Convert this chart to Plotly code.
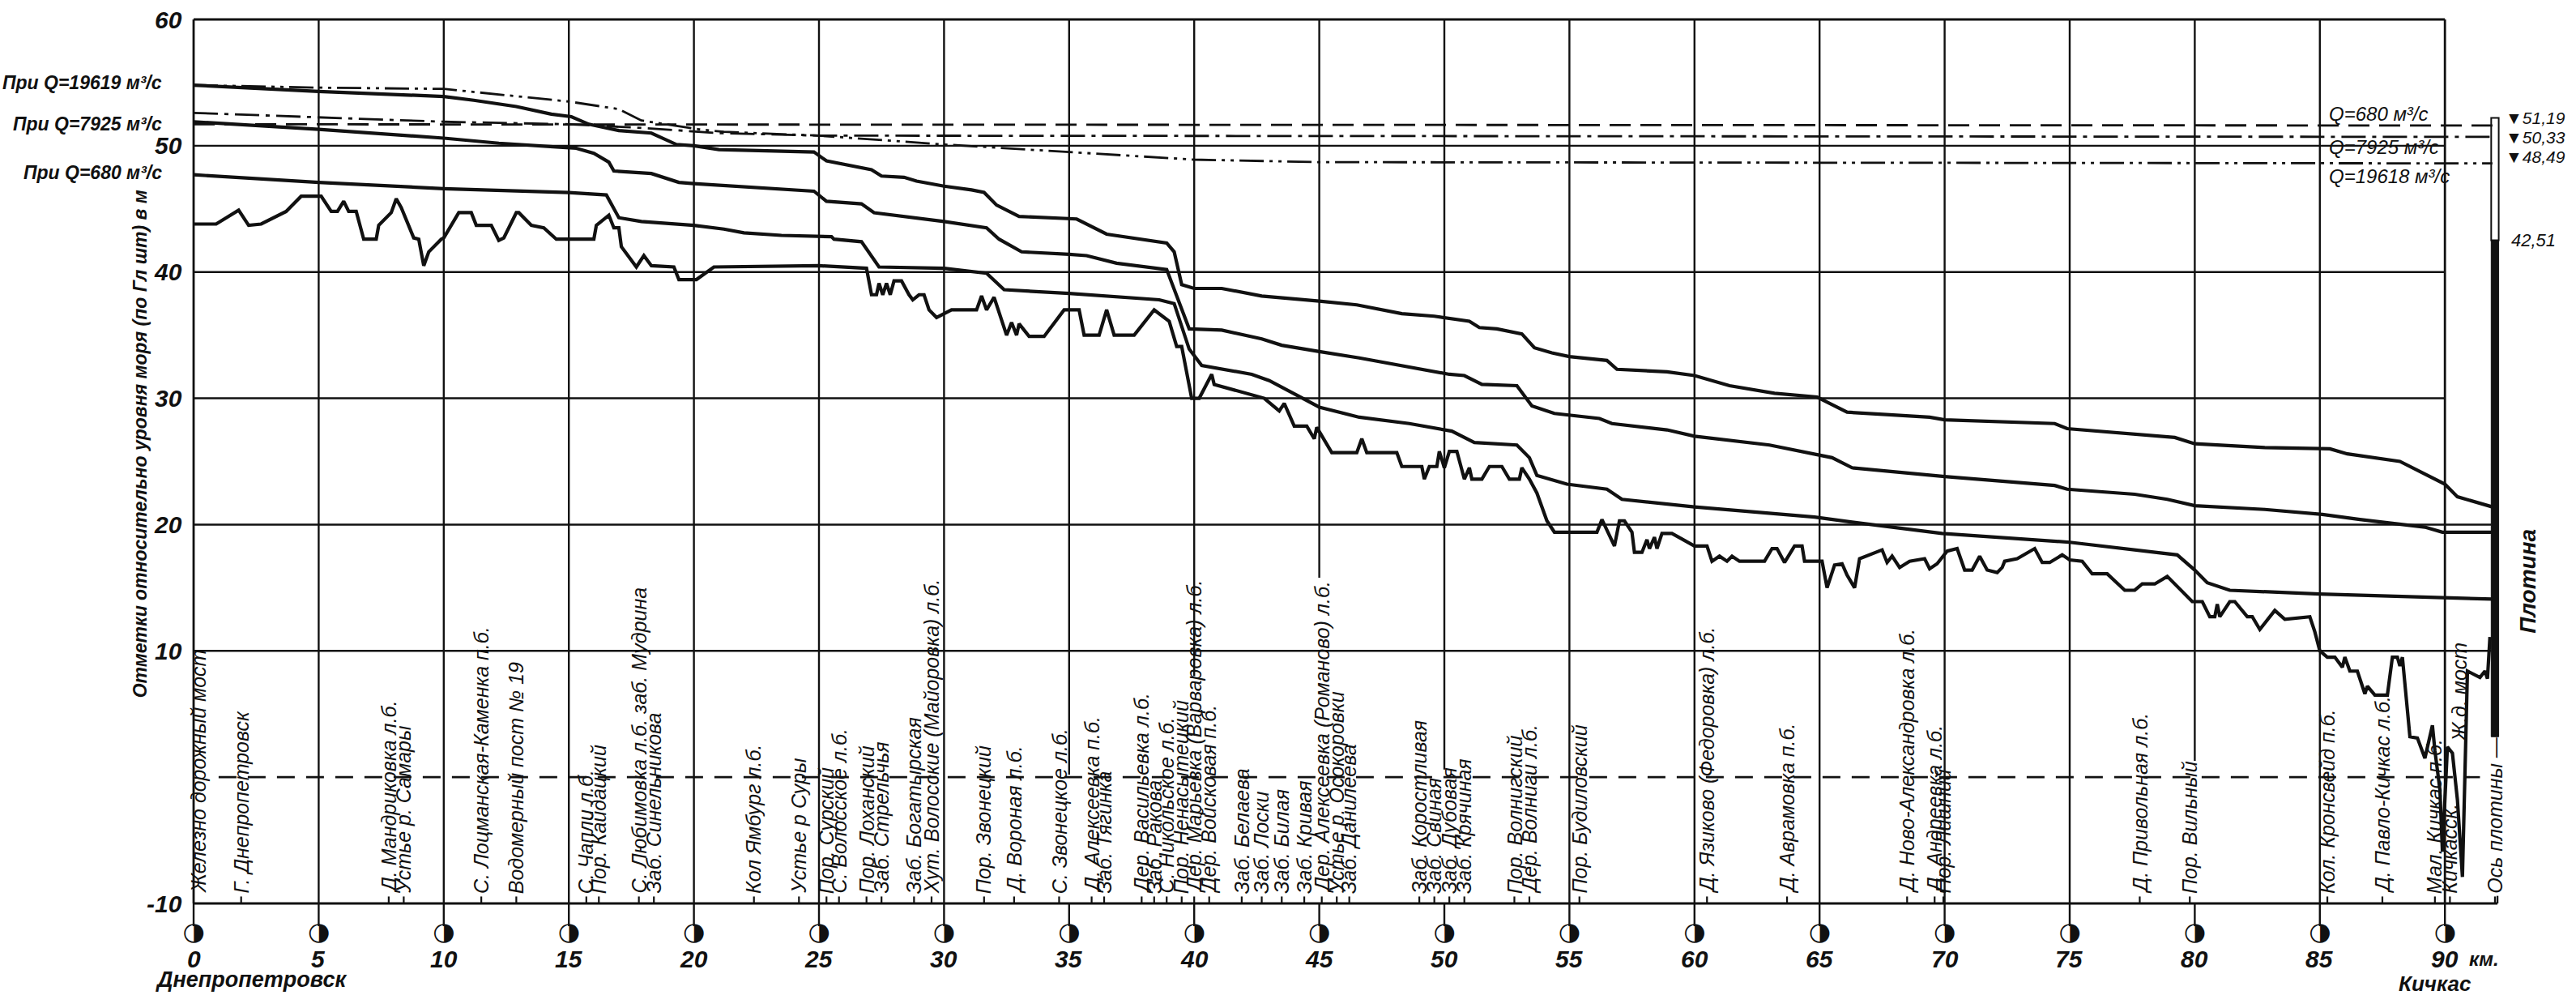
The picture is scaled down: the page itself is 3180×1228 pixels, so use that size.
import plotly.graph_objects as go

# ---------------- data ----------------
grid_km = [0, 5, 10, 15, 20, 25, 30, 35, 40, 45, 50, 55, 60, 65, 70, 75, 80, 85, 90]
grid_levels = [60, 50, 40, 30, 20, 10]
y_tick_levels = [60, 50, 40, 30, 20, 10, -10]

# natural water profile, Q = 19619 m3/s
q19619_km = [0, 5, 10, 11.2, 12.9, 14.3, 15.1, 15.8, 17, 18.3, 19.3, 20, 21, 24.8, 25.3, 27.1, 27.5, 28.4, 28.9,
             30, 31.1, 31.6, 32.1, 33, 35.3, 36.5, 38.9, 39.2, 39.5, 40, 41.1, 42.7, 45, 46.5, 48.3, 49.6, 51,
             51.4, 52.1, 53.1, 53.6, 54.3, 55, 56.5, 56.9, 58.9, 60, 61.4, 63.2, 64.9, 65.5, 66.1, 67.8, 69.4,
             70, 74.4, 74.9, 77.4, 79.2, 80, 82.8, 85.4, 86.1, 88.2, 89, 90, 90.5, 91.9]
q19619_lvl = [54.8, 54.3, 53.9, 53.6, 53.1, 52.5, 52.3, 51.7, 51.2, 51.0, 50.1, 50.0, 49.7, 49.5, 48.8, 48.1, 47.6,
              47.5, 47.2, 46.8, 46.5, 46.3, 45.3, 44.4, 44.2, 43.0, 42.3, 41.6, 39.0, 38.7, 38.7, 38.1, 37.7, 37.4,
              36.7, 36.5, 36.1, 35.6, 35.5, 35.1, 34.0, 33.6, 33.3, 33.0, 32.3, 32.1, 31.8, 31.0, 30.4, 30.1, 29.5,
              28.9, 28.7, 28.5, 28.3, 28.0, 27.6, 27.2, 26.9, 26.4, 26.1, 26.0, 25.6, 25.0, 24.2, 23.2, 22.2, 21.4]

# natural water profile, Q = 7925 m3/s
q7925_km = [0, 5, 10, 12.2, 14.5, 15.3, 16, 16.6, 16.8, 18.3, 19.4, 20, 24.8, 25.3, 26.7, 27.2, 30, 31.7, 32.2,
            33.1, 35, 35.7, 36.9, 38.9, 39.8, 41.1, 42.7, 43.5, 45, 46.6, 50.2, 50.8, 51.5, 52.9, 53.5, 54.4,
            56.2, 56.7, 58.9, 60, 63, 65, 65.5, 66.3, 70, 74.4, 74.9, 77.6, 78.9, 80, 82.8, 85.1, 86.6, 89.2,
            89.9, 91.9]
q7925_lvl = [51.9, 51.3, 50.6, 50.2, 49.9, 49.8, 49.4, 48.7, 48.0, 47.8, 47.1, 47.0, 46.4, 45.6, 45.4, 44.7, 44.0,
             43.5, 42.6, 41.6, 41.4, 41.3, 40.7, 40.2, 35.5, 35.4, 34.7, 34.2, 33.7, 33.2, 31.9, 31.8, 31.1, 31.0,
             29.4, 28.8, 28.4, 28.0, 27.5, 27.0, 26.3, 25.5, 25.3, 24.5, 23.8, 23.1, 22.8, 22.4, 22.0, 21.5, 21.2,
             20.8, 20.4, 19.8, 19.4, 19.4]

# natural water profile, Q = 680 m3/s
q680_km = [0, 5, 10, 15, 16.5, 17, 17.9, 20, 21.2, 22, 23.5, 25.5, 25.6, 26.7, 27.4, 30, 31.7, 32.4, 35, 38.6,
           39.2, 39.8, 40.3, 42.3, 43, 45, 46.6, 48.6, 50.3, 51.2, 52.9, 53.4, 53.7, 54.9, 56.5, 57.1, 60, 64.8,
           66.3, 69.9, 75, 79.3, 80, 80.5, 81.4, 85, 91.9]
q680_lvl = [47.7, 47.1, 46.6, 46.3, 46.1, 44.3, 44.0, 43.7, 43.4, 43.1, 42.9, 42.8, 42.6, 42.4, 40.4, 40.3, 39.9,
            38.6, 38.3, 37.8, 37.5, 33.9, 32.6, 31.9, 31.4, 29.3, 28.5, 28.0, 27.4, 26.5, 26.3, 25.3, 23.9, 23.2,
            22.8, 22.0, 21.4, 20.6, 20.2, 19.3, 18.6, 17.6, 16.4, 15.4, 14.8, 14.5, 14.1]

# river bed
bed_km = [0, 0.9, 1.8, 2.2, 2.7, 3.7, 4.3, 5.1, 5.5, 5.75, 6.0, 6.2, 6.5, 6.8, 7.3, 7.4, 7.9, 8.1, 8.3, 8.8, 9.0,
          9.2, 9.4, 9.9, 10.0, 10.6, 11.1, 11.3, 11.9, 12.2, 12.4, 12.9, 13.0, 13.5, 14.0, 14.5, 16.0, 16.1, 16.6,
          16.8, 17.0, 17.1, 17.7, 18.0, 18.3, 19.2, 19.4, 20.1, 20.8, 25.0, 26.9, 27.1, 27.3, 27.4, 27.55, 27.7,
          27.85, 28.0, 28.3, 28.6, 28.75, 29.0, 29.2, 29.4, 29.7, 30.0, 30.3, 31.3, 31.5, 31.7, 32.0, 32.5, 32.7,
          32.9, 33.0, 33.4, 34.0, 34.8, 35.4, 35.6, 36.2, 36.5, 36.8, 37.6, 38.4, 39.0, 39.3, 39.5, 39.9, 40.2,
          40.7, 40.8, 42.8, 43.4, 43.6, 44.0, 44.5, 44.8, 44.9, 45.5, 46.5, 46.7, 46.9, 48.1, 48.3, 49.1, 49.2,
          49.4, 49.7, 49.8, 50.0, 50.2, 50.5, 50.8, 51.0, 51.1, 51.5, 51.8, 52.3, 52.6, 53.0, 53.1, 53.4, 53.7,
          54.1, 54.4, 56.1, 56.3, 56.5, 56.8, 57.0, 57.2, 57.5, 57.6, 57.9, 58.1, 58.2, 58.4, 58.5, 58.7, 59.1,
          60.0, 60.5, 60.7, 61.0, 61.3, 61.5, 61.8, 62.8, 63.1, 63.3, 63.6, 64.0, 64.3, 64.4, 65.1, 65.3, 65.6,
          65.9, 66.1, 66.4, 66.6, 67.5, 67.7, 67.9, 68.2, 68.6, 69.2, 69.4, 69.7, 70.1, 70.5, 70.8, 71.1, 71.4,
          71.7, 72.1, 72.3, 72.4, 72.9, 73.6, 73.9, 74.2, 74.7, 75.0, 75.5, 75.9, 76.5, 77.2, 77.6, 77.9, 78.4,
          78.9, 79.9, 80.3, 80.6, 80.8, 80.9, 81.0, 81.4, 81.6, 82.1, 82.3, 82.6, 83.2, 83.6, 84.6, 84.8, 85.0,
          85.3, 85.6, 85.9, 86.0, 86.2, 86.5, 86.8, 86.9, 87.2, 87.7, 87.9, 88.1, 88.2, 88.3, 88.6, 88.9, 89.2,
          89.5, 89.6, 89.8, 89.9, 90.1, 90.3, 90.5, 90.7, 90.9, 91.4, 91.6, 91.7, 91.8]
bed_lvl = [43.8, 43.8, 44.9, 43.7, 43.8, 44.8, 46.0, 46.0, 44.8, 44.8, 45.6, 44.8, 44.8, 42.6, 42.6, 43.7, 44.7,
           45.8, 45.1, 42.7, 42.6, 40.5, 41.6, 42.6, 42.7, 44.7, 44.7, 43.7, 43.7, 42.5, 42.7, 44.7, 44.7, 43.7,
           43.5, 42.6, 42.6, 43.7, 44.5, 43.5, 43.5, 42.0, 40.4, 41.3, 40.5, 40.4, 39.4, 39.4, 40.4, 40.5, 40.3,
           38.2, 38.2, 39.1, 38.2, 39.1, 38.2, 39.3, 39.3, 38.2, 37.8, 38.2, 38.2, 37.0, 36.4, 36.7, 37.0, 37.0,
           38.1, 37.0, 38.0, 35.0, 36.0, 35.0, 35.9, 34.9, 34.9, 37.0, 37.0, 35.0, 35.0, 37.0, 35.0, 35.0, 37.0,
           36.1, 34.1, 34.1, 30.0, 30.0, 31.9, 31.1, 30.0, 29.0, 29.6, 27.8, 27.8, 26.8, 27.7, 25.7, 25.7, 26.8,
           25.7, 25.7, 24.6, 24.6, 23.6, 24.6, 24.6, 25.8, 24.5, 25.8, 25.8, 23.6, 24.5, 23.6, 23.6, 24.6, 24.6,
           23.6, 23.6, 24.5, 23.6, 22.5, 20.3, 19.4, 19.4, 20.4, 19.5, 18.3, 20.3, 20.3, 19.4, 17.8, 17.8, 18.8,
           18.1, 19.0, 18.1, 19.3, 19.3, 18.3, 18.3, 17.1, 17.5, 17.1, 17.5, 17.1, 17.1, 18.1, 18.1, 17.0, 18.3,
           18.3, 17.1, 17.1, 15.0, 16.8, 16.9, 16.0, 15.0, 17.3, 18.0, 17.0, 17.5, 16.6, 17.1, 17.3, 16.5, 16.9,
           17.9, 18.1, 16.4, 16.4, 17.5, 16.4, 16.2, 16.6, 17.1, 17.3, 18.1, 17.0, 17.0, 17.6, 17.2, 17.1, 16.1,
           16.1, 14.8, 14.8, 15.3, 15.3, 15.9, 13.9, 13.9, 12.7, 12.7, 13.7, 12.7, 13.9, 13.9, 12.7, 12.7, 11.7,
           13.2, 12.5, 12.7, 11.5, 10.0, 9.5, 9.5, 8.7, 9.5, 8.4, 8.4, 6.6, 7.2, 6.5, 6.5, 9.5, 9.5, 8.8, 9.5,
           3.2, 3.1, 1.5, 4.1, 2.1, -1.0, -5.9, 2.4, 1.9, -1.8, -7.9, 8.4, 7.9, 8.4, 7.8, 11.1]

# backwater levels after the dam
res680_km = [0, 91.9]
res680_lvl = [51.7, 51.6]
res7925_km = [0, 10, 15, 18, 21, 25, 91.9]
res7925_lvl = [52.6, 51.9, 51.7, 51.4, 51.0, 50.8, 50.7]
res19618_km = [0, 5, 10, 15, 17, 17.9, 20.2, 21.2, 25, 30, 35, 40, 45, 91.9]
res19618_lvl = [54.8, 54.6, 54.5, 53.5, 52.9, 52.0, 51.3, 51.1, 50.8, 50.1, 49.5, 48.9, 48.7, 48.6]

# reference dashed level
ref_km = [1.0, 91.4]
ref_lvl = [0, 0]

# dam
dam_km = 92.0
dam_top = 52.2
dam_crest = 42.51
dam_bottom = 3.2
dam_marks = ["▼51,19", "▼50,33", "▼48,49"]
dam_mark_lvl = [52.2, 50.65, 49.1]

# stations along the river
station_km = [1.9, 7.8, 8.4, 11.5, 12.9, 15.7, 16.2, 17.8, 18.4, 22.4, 24.2, 25.3, 25.8, 26.9, 27.5, 28.8, 29.5,
              31.6, 32.8, 34.6, 35.9, 36.4, 37.9, 38.4, 38.9, 39.5, 40.0, 40.6, 41.9, 42.7, 43.5, 44.4, 45.1,
              45.7, 46.2, 49.0, 49.6, 50.2, 50.8, 52.8, 53.4, 55.4, 60.5, 63.7, 68.5, 69.6, 69.95, 77.8, 79.8,
              85.3, 87.5, 89.6, 90.2, 92.0]
station_names = ["Г. Днепропетровск", "Д. Мандриковка л.б.", "Устье р. Самары", "С. Лоцманская-Каменка п.б.",
                 "Водомерный пост № 19", "С. Чапли л.б.", "Пор. Кайдацкий", "С. Любимовка л.б. заб. Мудрина",
                 "Заб. Синельникова", "Кол Ямбург л.б.", "Устье р Суры", "Пор. Сурский", "С. Волосское л.б.",
                 "Пор. Лоханский", "Заб. Стрельчья", "Заб. Богатырская", "Хут. Волосские (Майоровка) л.б.",
                 "Пор. Звонецкий", "Д. Вороная л.б.", "С. Звонецкое л.б.", "Д. Алексеевка п.б.", "Заб. Тягинка",
                 "Дер. Васильевка л.б.", "Заб. Ракова", "С. Никольское л.б.", "Пор. Ненасытецкий",
                 "Дер. Марьевка (Варваровка) л.б.", "Дер. Войсковая п.б.", "Заб. Белаева", "Заб. Лоски",
                 "Заб. Билая", "Заб. Кривая", "Дер. Алексеевка (Романово) л.б.", "Устье р. Осокоровки",
                 "Заб. Данилеева", "Заб. Коростливая", "Заб. Свиная", "Заб. Дубовая", "Заб. Крячиная",
                 "Пор. Волнигский", "Дер. Волниги л.б.", "Пор. Будиловский", "Д. Язиково (Федоровка) л.б.",
                 "Д. Аврамовка п.б.", "Д. Ново-Александровка л.б.", "Д. Андреевка л.б.", "Пор. Лишний",
                 "Д. Привольная л.б.", "Пор. Вильный", "Кол. Кронсвейд п.б.", "Д. Павло-Кичкас л.б.",
                 "Мал. Кичкас п.б.", "Кичкасск.", "Ось плотины —"]

# ---------------- layout helpers ----------------
FONT = "Liberation Sans Narrow, Liberation Sans, Arial Narrow, sans-serif"
INK = "#111111"
W, H = 3180, 1228
X_RANGE = [-7.74, 95.24]
Y_RANGE = [-17.25, 61.54]
GRID_RIGHT = 90
GRID_RIGHT_LOW = 91.85
AXIS_RIGHT = 92.1
CIRCLE_Y = -12.4
NUM_Y = -14.4
LABEL_BASE = -9.35
grid_stop = {35: 0.2, 40: 8.0, 45: 15.8, 50: 0.6, 80: 1.3}

fig = go.Figure()

line_w = 4.2
fig.add_trace(go.Scatter(x=bed_km, y=bed_lvl, mode="lines", line=dict(color=INK, width=line_w)))
fig.add_trace(go.Scatter(x=q19619_km, y=q19619_lvl, mode="lines", line=dict(color=INK, width=line_w)))
fig.add_trace(go.Scatter(x=q7925_km, y=q7925_lvl, mode="lines", line=dict(color=INK, width=line_w)))
fig.add_trace(go.Scatter(x=q680_km, y=q680_lvl, mode="lines", line=dict(color=INK, width=line_w)))
fig.add_trace(go.Scatter(x=res680_km, y=res680_lvl, mode="lines",
                         line=dict(color=INK, width=2.8, dash="26px,12px")))
fig.add_trace(go.Scatter(x=res7925_km, y=res7925_lvl, mode="lines",
                         line=dict(color=INK, width=2.8, dash="30px,8px,5px,8px")))
fig.add_trace(go.Scatter(x=res19618_km, y=res19618_lvl, mode="lines",
                         line=dict(color=INK, width=2.8, dash="30px,7px,4px,7px,4px,7px")))
fig.add_trace(go.Scatter(x=ref_km, y=ref_lvl, mode="lines",
                         line=dict(color=INK, width=2.6, dash="22px,14px")))

# station ticks on the base line
tx, ty = [], []
for k in station_km:
    tx += [k, k, None]
    ty += [-10, -9.45, None]
fig.add_trace(go.Scatter(x=tx, y=ty, mode="lines", line=dict(color=INK, width=2.2)))

# kilometre circles
fig.add_trace(go.Scatter(x=grid_km, y=[CIRCLE_Y] * len(grid_km), mode="text", text=["◑"] * len(grid_km),
                         textfont=dict(family="DejaVu Sans", size=31, color=INK)))

# dam
fig.add_trace(go.Bar(x=[dam_km], y=[dam_crest - dam_bottom], base=[dam_bottom], width=0.3,
                     marker=dict(color=INK, line=dict(color=INK, width=1))))
fig.add_trace(go.Bar(x=[dam_km], y=[dam_top - dam_crest], base=[dam_crest], width=0.3,
                     marker=dict(color="white", line=dict(color=INK, width=2))))

shapes = []
# horizontal grid
for g in grid_levels:
    right = GRID_RIGHT_LOW if g <= 20 else GRID_RIGHT
    shapes.append(dict(type="line", xref="x", yref="y", x0=0, x1=right, y0=g, y1=g,
                       line=dict(color=INK, width=2.8 if g == 60 else 2.4), layer="below"))
# base line
shapes.append(dict(type="line", xref="x", yref="y", x0=0, x1=AXIS_RIGHT, y0=-10, y1=-10,
                   line=dict(color=INK, width=3.0), layer="below"))
shapes.append(dict(type="line", xref="x", yref="y", x0=AXIS_RIGHT, x1=AXIS_RIGHT, y0=-10, y1=-9.4,
                   line=dict(color=INK, width=2.4), layer="below"))
# vertical grid
for k in grid_km:
    stop = grid_stop.get(k, -10)
    shapes.append(dict(type="line", xref="x", yref="y", x0=k, x1=k, y0=60, y1=stop,
                       line=dict(color=INK, width=2.8 if k in (0, 90) else 2.4), layer="below"))
    shapes.append(dict(type="line", xref="x", yref="y", x0=k, x1=k, y0=-10, y1=CIRCLE_Y + 0.6,
                       line=dict(color=INK, width=2.4), layer="below"))

ann = []
ital = dict(family=FONT, color=INK, style="italic")
for v in y_tick_levels:
    ann.append(dict(x=-0.4, y=v, xref="x", yref="y", text="<b>%d</b>" % v, showarrow=False, xanchor="right",
                    yanchor="middle", font=dict(size=30, **ital)))
for k in grid_km:
    ann.append(dict(x=k, y=NUM_Y, xref="x", yref="y", text="<b>%d</b>" % k, showarrow=False, xanchor="center",
                    yanchor="middle", font=dict(size=30, **ital)))
ann.append(dict(x=91.55, y=NUM_Y, xref="x", yref="y", text="<b>км.</b>", showarrow=False, xanchor="center",
                yanchor="middle", font=dict(size=24, **ital)))
ann.append(dict(x=2.3, y=-16.0, xref="x", yref="y", text="<b>Днепропетровск</b>", showarrow=False,
                xanchor="center", yanchor="middle", font=dict(size=27, **ital)))
ann.append(dict(x=89.6, y=-16.35, xref="x", yref="y", text="<b>Кичкас</b>", showarrow=False,
                xanchor="center", yanchor="middle", font=dict(size=26, **ital)))

# station labels (vertical)
for k, name in zip(station_km, station_names):
    ann.append(dict(x=k, y=LABEL_BASE, xref="x", yref="y", text=name, showarrow=False, textangle=-90,
                    xanchor="center", yanchor="bottom", font=dict(size=25, **ital)))
ann.append(dict(x=0.2, y=LABEL_BASE, xref="x", yref="y", text="Железно дорожный мост", showarrow=False,
                textangle=-90, xanchor="center", yanchor="bottom", font=dict(size=25, **ital)))
ann.append(dict(x=90.55, y=2.6, xref="x", yref="y", text="Ж.д. мост", showarrow=False,
                textangle=-90, xanchor="center", yanchor="bottom", font=dict(size=25, **ital)))

# y axis title
ann.append(dict(x=-2.15, y=26.4, xref="x", yref="y",
                text="<b>Отметки относительно уровня моря (по Гл шт) в м</b>", showarrow=False,
                textangle=-90, xanchor="center", yanchor="middle", font=dict(size=23, **ital)))
# discharge labels on the left
for txt, v in [("<b>При Q=19619 м³/с</b>", 55.0), ("<b>При Q=7925 м³/с</b>", 51.7), ("<b>При Q=680 м³/с</b>", 47.9)]:
    ann.append(dict(x=-1.2, y=v, xref="x", yref="y", text=txt, showarrow=False, xanchor="right",
                    yanchor="middle", font=dict(size=23, **ital)))
# discharge labels on the right
for txt, v in [("Q=680 м³/с", 52.5), ("Q=7925 м³/с", 49.9), ("Q=19618 м³/с", 47.6)]:
    ann.append(dict(x=85.3, y=v, xref="x", yref="y", text=txt, showarrow=False, xanchor="left",
                    yanchor="middle", font=dict(size=24, **ital)))
for txt, v in zip(dam_marks, dam_mark_lvl):
    ann.append(dict(x=92.35, y=v, xref="x", yref="y", text=txt, showarrow=False, xanchor="left",
                    yanchor="middle", font=dict(size=21, **ital)))
ann.append(dict(x=92.6, y=dam_crest, xref="x", yref="y", text="42,51", showarrow=False, xanchor="left",
                yanchor="middle", font=dict(size=22, **ital)))
ann.append(dict(x=93.3, y=15.5, xref="x", yref="y", text="<b>Плотина</b>", showarrow=False, textangle=-90,
                xanchor="center", yanchor="middle", font=dict(size=28, **ital)))

fig.update_layout(
    width=W, height=H, margin=dict(l=0, r=0, t=0, b=0),
    paper_bgcolor="white", plot_bgcolor="white", showlegend=False, barmode="overlay",
    xaxis=dict(range=X_RANGE, visible=False, showgrid=False, zeroline=False),
    yaxis=dict(range=Y_RANGE, visible=False, showgrid=False, zeroline=False),
    shapes=shapes, annotations=ann,
)

fig.write_html("out.html", config={"displayModeBar": False},
               post_script="document.body.style.margin='0px';")
